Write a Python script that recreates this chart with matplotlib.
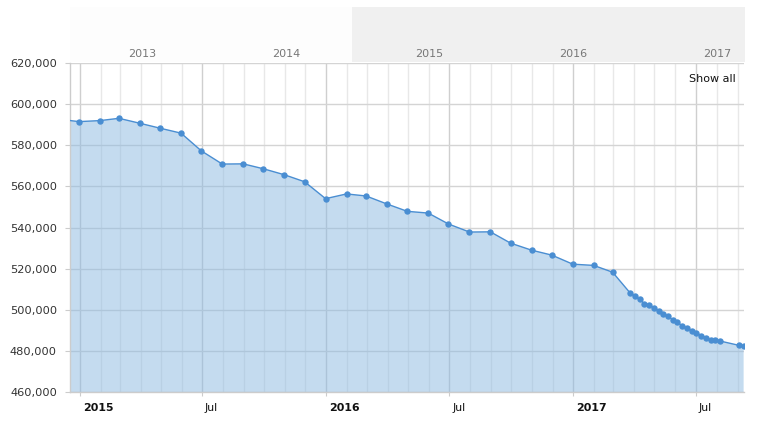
import datetime as dt
import matplotlib
matplotlib.use("Agg")
import matplotlib.pyplot as plt
import matplotlib.dates as mdates
from matplotlib.ticker import FuncFormatter
import matplotlib.transforms as mtrans

# ---------------- data ----------------
monthly_dates = [
    "2014-11-30", "2014-12-31",
    "2015-01-31", "2015-02-28", "2015-03-31", "2015-04-30", "2015-05-31", "2015-06-30",
    "2015-07-31", "2015-08-31", "2015-09-30", "2015-10-31", "2015-11-30", "2015-12-31",
    "2016-01-31", "2016-02-29", "2016-03-31", "2016-04-30", "2016-05-31", "2016-06-30",
    "2016-07-31", "2016-08-31", "2016-09-30", "2016-10-31", "2016-11-30", "2016-12-31",
    "2017-01-31", "2017-02-28",
]
monthly_values = [
    592600, 591400,
    591900, 593000, 590600, 588200, 585800, 577200,
    570800, 570900, 568500, 565600, 562200, 554000,
    556300, 555300, 551400, 547850, 547000, 541700,
    537800, 537900, 532400, 529000, 526600, 522200,
    521600, 518300,
]
weekly_dates = [
    "2017-03-26", "2017-04-02", "2017-04-09", "2017-04-16", "2017-04-23", "2017-04-30",
    "2017-05-07", "2017-05-14", "2017-05-21", "2017-05-28", "2017-06-04", "2017-06-11",
    "2017-06-18", "2017-06-25", "2017-07-02", "2017-07-09", "2017-07-16", "2017-07-23",
    "2017-07-30", "2017-08-06", "2017-09-03", "2017-09-10",
]
weekly_values = [
    508200, 506700, 505100, 503100, 502400, 501000,
    499650, 498200, 496800, 495300, 493900, 492400,
    491000, 490000, 488900, 487500, 486500, 485300,
    485300, 484900, 482800, 482300,
]

x_tick_dates = ["2015-01-01", "2015-07-01", "2016-01-01", "2016-07-01", "2017-01-01", "2017-07-01"]
x_tick_labels = ["2015", "Jul", "2016", "Jul", "2017", "Jul"]
y_ticks = [460000, 480000, 500000, 520000, 540000, 560000, 580000, 600000, 620000]
nav_years = [2013, 2014, 2015, 2016, 2017]
show_all_label = "Show all"

# ---------------- helpers ----------------
def parse(d):
    return dt.datetime.strptime(d, "%Y-%m-%d")

dates = [parse(d) for d in monthly_dates + weekly_dates]
values = monthly_values + weekly_values

W, H = 775, 423
fig = plt.figure(figsize=(W / 100, H / 100), dpi=100)
fig.patch.set_facecolor("white")

# main axes
L, R, T, B = 70.3, 744.3, 62.7, 392.3
ax = fig.add_axes([L / W, 1 - B / H, (R - L) / W, (B - T) / H])

line_color = "#4a8ed2"
ax.fill_between(dates, values, 0, color="#8bb9e1", alpha=0.5, linewidth=0, zorder=2)
ax.plot(dates, values, color=line_color, linewidth=1.0, zorder=3,
        marker="o", markersize=4.6, markeredgewidth=0, markerfacecolor=line_color)

ax.set_xlim(dt.datetime(2014, 12, 18), dt.datetime(2017, 9, 11))
ax.set_ylim(y_ticks[0], y_ticks[-1])

ax.set_yticks(y_ticks)
ax.yaxis.set_major_formatter(FuncFormatter(lambda v, p: f"{int(v):,}"))

# x axis: major ticks Jan/Jul with labels, minor monthly gridlines
ax.set_xticks([parse(d) for d in x_tick_dates])
ax.set_xticklabels(x_tick_labels)
ax.xaxis.set_minor_locator(mdates.MonthLocator())

ax.set_axisbelow(True)
ax.grid(axis="y", which="major", color="#d4d4d4", linewidth=1.0, zorder=0)
ax.grid(axis="x", which="minor", color="#e8e8e8", linewidth=1.0, zorder=0)
ax.grid(axis="x", which="major", color="#cfcfcf", linewidth=1.0, zorder=0)

ax.tick_params(axis="y", length=3.6, width=0.8, color="#cccccc", pad=6,
               labelsize=8.2, labelcolor="#333333")
ax.tick_params(axis="x", which="major", length=3.2, width=0.8, color="#cccccc", pad=4.5,
               labelsize=7.9, labelcolor="#111111")
ax.tick_params(axis="x", which="minor", length=0)

offset = mtrans.ScaledTranslation(3 / 100, 0, fig.dpi_scale_trans)
for lab, txt in zip(ax.get_xticklabels(), x_tick_labels):
    lab.set_horizontalalignment("left")
    lab.set_transform(lab.get_transform() + offset)
    if txt != "Jul":
        lab.set_fontweight("bold")

for s in ["top", "right"]:
    ax.spines[s].set_visible(False)
ax.spines["bottom"].set_color("#cccccc")
ax.spines["left"].set_color("#cccccc")
ax.spines["bottom"].set_linewidth(1.0)
ax.spines["left"].set_linewidth(1.0)

# navigator strip on top
NL, NR, NT, NB = 70.3, 745.0, 7.3, 61.7
nav = fig.add_axes([NL / W, 1 - NB / H, (NR - NL) / W, (NB - NT) / H])
tick0_px, px_per_year = 125.5, 143.55
def px_to_year(px):
    return nav_years[0] + (px - tick0_px) / px_per_year
nav.set_xlim(px_to_year(NL), px_to_year(NR))
nav.set_ylim(0, 1)
nav.set_facecolor("#fdfdfd")
nav.axvspan(px_to_year(352.0), px_to_year(NR), color="#f0f0f0", linewidth=0)
nav.set_xticks([])
nav.set_yticks([])
for s in nav.spines.values():
    s.set_visible(False)
nav_off = mtrans.ScaledTranslation(3 / 100, 0, fig.dpi_scale_trans)
for yr in nav_years:
    nav.text(yr, 0.09, str(yr), transform=nav.get_xaxis_transform() + nav_off,
             ha="left", va="baseline", fontsize=8, color="#777777")

fig.text(712.3 / W, 1 - 79.3 / H, show_all_label, ha="center", va="center",
         fontsize=8, color="#111111")

fig.savefig("out.png", dpi=100, facecolor="white")
